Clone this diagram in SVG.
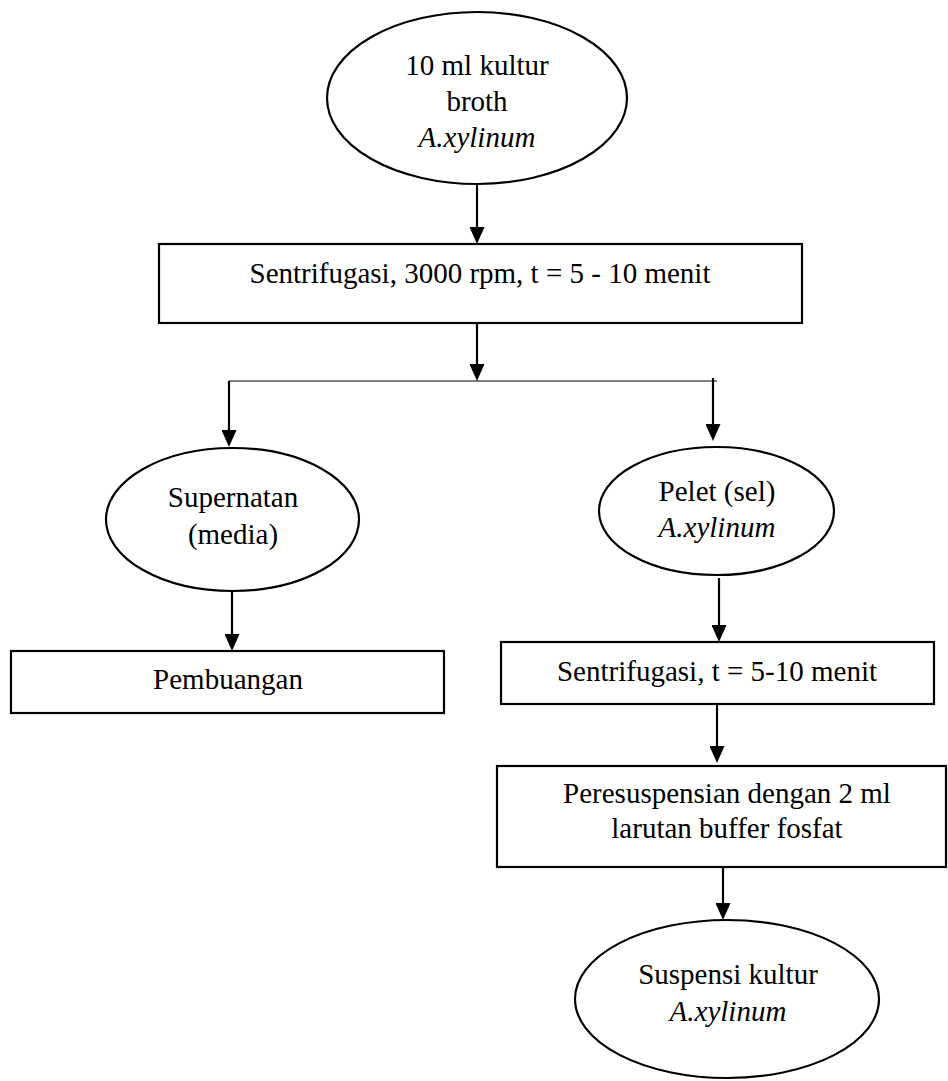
<svg xmlns="http://www.w3.org/2000/svg" width="948" height="1081" viewBox="0 0 948 1081">
  <style>
    .shape { fill: #ffffff; stroke: #000000; stroke-width: 2.2; }
    .lbl { font-family: "Liberation Serif", "Times New Roman", serif; font-size: 29px; fill: #000000; text-anchor: middle; }
    .it { font-style: italic; }
    .wire { fill: none; stroke: #000000; stroke-width: 2.2; }
    .bus { fill: none; stroke: #000000; stroke-width: 1.2; }
  </style>
  <defs>
    <marker id="arrow" viewBox="0 0 17 15" refX="13" refY="7.5" markerWidth="17" markerHeight="15" markerUnits="userSpaceOnUse" orient="auto">
      <path d="M0,0 L17,7.5 L0,15 z" fill="#000000"/>
    </marker>
  </defs>
  <rect width="948" height="1081" fill="#ffffff"/>

  <!-- connectors -->
  <g id="connectors">
    <line class="wire" x1="477" y1="185" x2="477" y2="240" marker-end="url(#arrow)"/>
    <line class="wire" x1="477" y1="324" x2="477" y2="377" marker-end="url(#arrow)"/>
    <line class="bus" x1="229" y1="381" x2="717" y2="381"/>
    <line class="wire" x1="229" y1="381" x2="229" y2="443" marker-end="url(#arrow)"/>
    <line class="wire" x1="713" y1="378" x2="713" y2="437" marker-end="url(#arrow)"/>
    <line class="wire" x1="232" y1="591" x2="232" y2="647" marker-end="url(#arrow)"/>
    <line class="wire" x1="719" y1="578" x2="719" y2="638" marker-end="url(#arrow)"/>
    <line class="wire" x1="717" y1="704" x2="717" y2="759" marker-end="url(#arrow)"/>
    <line class="wire" x1="723" y1="867" x2="723" y2="916" marker-end="url(#arrow)"/>
  </g>

  <g id="n-kultur-broth">
    <ellipse class="shape" cx="477" cy="98" rx="150" ry="86"/>
    <text class="lbl" x="477" y="75">10 ml kultur</text>
    <text class="lbl" x="477" y="111">broth</text>
    <text class="lbl it" x="477" y="147">A.xylinum</text>
  </g>

  <g id="n-sentrifugasi-1">
    <rect class="shape" x="159" y="244" width="643" height="79"/>
    <text class="lbl" x="480" y="283">Sentrifugasi, 3000 rpm, t = 5 - 10 menit</text>
  </g>

  <g id="n-supernatan">
    <ellipse class="shape" cx="232.5" cy="519.5" rx="126.5" ry="71.5"/>
    <text class="lbl" x="233" y="507">Supernatan</text>
    <text class="lbl" x="233" y="544">(media)</text>
  </g>

  <g id="n-pelet">
    <ellipse class="shape" cx="716.5" cy="511" rx="117.5" ry="64"/>
    <text class="lbl" x="717" y="501">Pelet (sel)</text>
    <text class="lbl it" x="717" y="537">A.xylinum</text>
  </g>

  <g id="n-pembuangan">
    <rect class="shape" x="11" y="651" width="433" height="62"/>
    <text class="lbl" x="228" y="689">Pembuangan</text>
  </g>

  <g id="n-sentrifugasi-2">
    <rect class="shape" x="501" y="642" width="433" height="62"/>
    <text class="lbl" x="717" y="681">Sentrifugasi, t = 5-10 menit</text>
  </g>

  <g id="n-peresuspensian">
    <rect class="shape" x="497" y="766" width="449" height="101"/>
    <text class="lbl" x="727" y="803">Peresuspensian dengan 2 ml</text>
    <text class="lbl" x="727" y="838">larutan buffer fosfat</text>
  </g>

  <g id="n-suspensi">
    <ellipse class="shape" cx="727" cy="999" rx="152" ry="79"/>
    <text class="lbl" x="728" y="984">Suspensi kultur</text>
    <text class="lbl it" x="728" y="1021">A.xylinum</text>
  </g>
</svg>
